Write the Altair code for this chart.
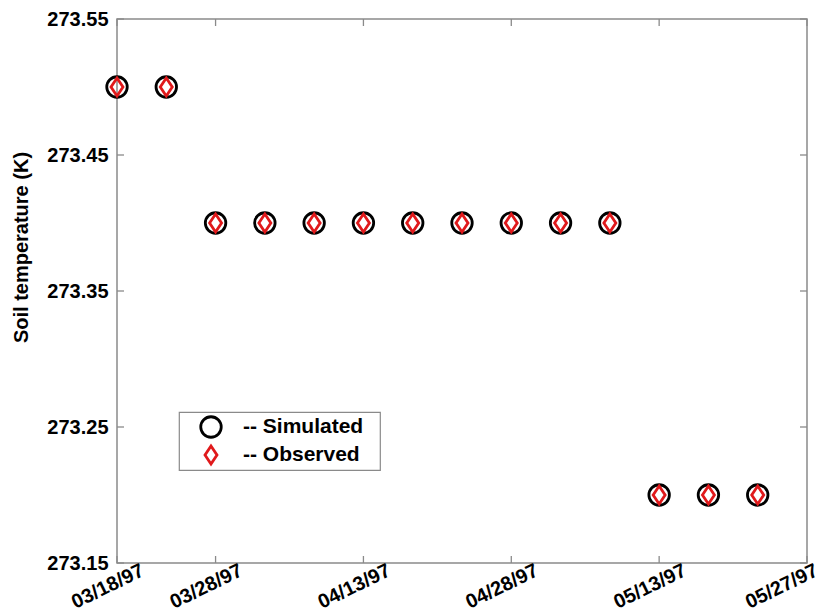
import altair as alt
import pandas as pd

# data
point_index = list(range(14))
simulated = [273.5, 273.5, 273.4, 273.4, 273.4, 273.4, 273.4, 273.4, 273.4, 273.4, 273.4, 273.2, 273.2, 273.2]
observed = [273.5, 273.5, 273.4, 273.4, 273.4, 273.4, 273.4, 273.4, 273.4, 273.4, 273.4, 273.2, 273.2, 273.2]
x_tick_values = [0, 2, 5, 8, 11, 14]
x_tick_labels = ["03/18/97", "03/28/97", "04/13/97", "04/28/97", "05/13/97", "05/27/97"]
y_tick_values = [273.15, 273.25, 273.35, 273.45, 273.55]
series_names = ["Simulated", "Observed"]

rows = []
for i, v in zip(point_index, simulated):
    rows.append({"idx": i, "temp": v, "series": "Simulated"})
for i, v in zip(point_index, observed):
    rows.append({"idx": i, "temp": v, "series": "Observed"})
df = pd.DataFrame(rows)

W, H = 690, 544
FONT = "Liberation Sans"
FRAME = "#8a8a8a"

label_map = "{" + ",".join(f"'{v}':'{l}'" for v, l in zip(x_tick_values, x_tick_labels)) + "}"

xscale = alt.Scale(domain=[0, 14], nice=False, zero=False)
yscale = alt.Scale(domain=[273.15, 273.55], nice=False, zero=False)

diamond = "M0,-1L0.66,0L0,1L-0.66,0Z"

leg = alt.Legend(title="\u00a0", titleOrient="right", titlePadding=14,
                 labelExpr="'-- ' + datum.label")

points = alt.Chart(df).mark_point(filled=False, strokeWidth=2.8, opacity=1).encode(
    x=alt.X("idx:Q", scale=xscale,
            axis=alt.Axis(values=x_tick_values, labelExpr=f"{label_map}[datum.value]",
                          title=None, grid=False, domain=False, ticks=False,
                          labelAngle=-26, labelAlign="right", labelBaseline="top",
                          labelOffset=alt.condition("datum.value == 14", alt.value(5), alt.value(21)),
                          labelPadding=-3, labelOverlap=False,
                          labelFont=FONT, labelFontSize=20, labelFontWeight="bold",
                          labelColor="black")),
    y=alt.Y("temp:Q", scale=yscale,
            axis=alt.Axis(values=y_tick_values, format=".2f", title="Soil temperature (K)",
                          grid=False, domain=False, ticks=False, labelPadding=9,
                          labelFont=FONT, labelFontSize=20, labelFontWeight="bold",
                          labelColor="black", titleFont=FONT, titleFontSize=20,
                          titleFontWeight="bold", titleColor="black",
                          titleX=-90, titleY=228, titleAngle=-90, titleAlign="center",
                          titleBaseline="alphabetic")),
    shape=alt.Shape("series:N", scale=alt.Scale(domain=series_names, range=["circle", diamond]),
                    legend=leg),
    color=alt.Color("series:N", scale=alt.Scale(domain=series_names, range=["black", "#e0191b"]),
                    legend=leg),
    size=alt.Size("series:N", scale=alt.Scale(domain=series_names, range=[420, 330]),
                  legend=leg),
)

# inward ticks
xt = pd.DataFrame({"v": x_tick_values})
yt = pd.DataFrame({"v": y_tick_values})
tick_style = dict(color=FRAME, strokeWidth=1.3)
bottom_ticks = alt.Chart(xt).mark_rule(**tick_style).encode(
    x=alt.X("v:Q", scale=xscale), y=alt.value(H), y2=alt.value(H - 7))
top_ticks = alt.Chart(xt).mark_rule(**tick_style).encode(
    x=alt.X("v:Q", scale=xscale), y=alt.value(0), y2=alt.value(7))
left_ticks = alt.Chart(yt).mark_rule(**tick_style).encode(
    y=alt.Y("v:Q", scale=yscale), x=alt.value(0), x2=alt.value(7))
right_ticks = alt.Chart(yt).mark_rule(**tick_style).encode(
    y=alt.Y("v:Q", scale=yscale), x=alt.value(W), x2=alt.value(W - 7))

chart = alt.layer(bottom_ticks, top_ticks, left_ticks, right_ticks, points).properties(
    width=W, height=H,
    padding={"left": 109, "top": 11, "right": 14, "bottom": 50},
    autosize=alt.AutoSizeParams(type="none"),
).configure_view(
    stroke=FRAME, strokeWidth=1.5
).configure_legend(
    orient="none", legendX=62, legendY=393,
    labelFont=FONT, labelFontSize=21, labelFontWeight="bold", labelColor="black",
    titleFont=FONT, titleFontSize=21,
    strokeColor=FRAME, strokeWidth=1.2, fillColor="white",
    padding=3, rowPadding=4, clipHeight=24, symbolStrokeWidth=2.8, symbolOffset=17,
    labelOffset=20,
)

chart.save("out.html", embed_options={"renderer": "svg", "actions": False})
